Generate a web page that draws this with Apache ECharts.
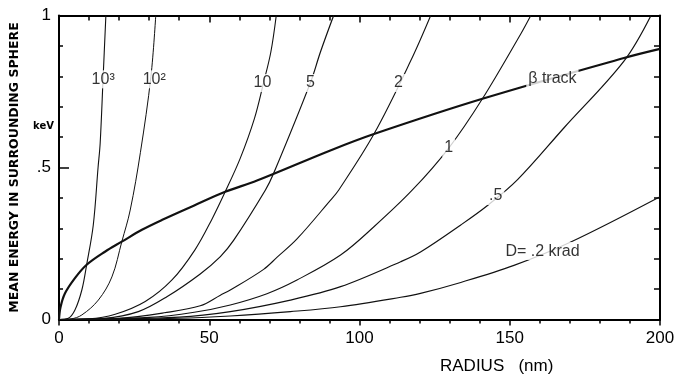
<!DOCTYPE html>
<html>
<head>
<meta charset="utf-8">
<script src="https://cdn.jsdelivr.net/npm/echarts@6/dist/echarts.min.js"></script>
<style>
  html, body { margin: 0; padding: 0; background: #fff; }
  #chart { width: 676px; height: 376px; }
</style>
</head>
<body>
<div id="chart"></div>
<script>
// curves: [radius nm, mean energy keV]
const curve1000 = [[0, 0], [3.1, 0.004], [5.3, 0.031], [7.6, 0.097], [9.2, 0.18], [11.4, 0.31], [13, 0.5], [13.7, 0.58], [14.7, 0.8], [15.6, 1.0]];
const curve100 = [[0, 0], [4, 0.002], [7.6, 0.015], [13.1, 0.064], [17.6, 0.14], [20.9, 0.256], [23.7, 0.36], [27.1, 0.55], [30.6, 0.8], [32.2, 1.0]];
const curve10 = [[0, 0], [10, 0.002], [18.7, 0.017], [28.7, 0.059], [37.6, 0.13], [45.3, 0.23], [50.9, 0.33], [55.3, 0.42], [60.3, 0.53], [65, 0.66], [68.1, 0.78], [70.5, 0.88], [72.3, 1.0]];
const curve5 = [[0, 0], [15, 0.004], [26.4, 0.026], [35.9, 0.075], [47, 0.15], [53.7, 0.207], [58.1, 0.26], [68.7, 0.426], [71.4, 0.48], [83.7, 0.78], [87, 0.88], [91.4, 1.0]];
const curve2 = [[0, 0], [20, 0.004], [35, 0.022], [47, 0.045], [53.7, 0.08], [57, 0.097], [68.1, 0.165], [72.6, 0.205], [79.2, 0.265], [90.3, 0.392], [93.1, 0.426], [104.8, 0.61], [117, 0.85], [123.7, 1.0]];
const curve1 = [[0, 0], [30, 0.007], [45, 0.024], [57, 0.048], [69.2, 0.085], [79.2, 0.13], [93.7, 0.212], [104.8, 0.305], [117.6, 0.426], [129.7, 0.564], [140.9, 0.726], [153.7, 0.94], [157, 1.0]];
const curveHalf = [[0, 0], [40, 0.008], [57, 0.026], [77, 0.064], [93.7, 0.108], [113.7, 0.19], [120.3, 0.222], [133.7, 0.311], [142.6, 0.375], [152.6, 0.46], [168, 0.63], [188, 0.85], [197, 1.0]];
const curveFifth = [[0, 0], [40, 0.004], [57, 0.0115], [77, 0.026], [93.7, 0.042], [113.7, 0.073], [120.3, 0.086], [133.7, 0.122], [151.4, 0.178], [170.3, 0.255], [200, 0.404]];
const betaTrack = [[0, 0], [0.5, 0.04], [2, 0.086], [5.3, 0.136], [9.2, 0.18], [15.3, 0.223], [20.9, 0.256], [27.6, 0.295], [34.2, 0.327], [45, 0.375], [55.3, 0.42], [65.9, 0.457], [90.3, 0.556], [104.8, 0.61], [140.9, 0.726], [188, 0.86], [200, 0.89]];

// in-plot labels [x, y, text]
const curveLabels = [
  [14.7, 0.79, '10³'],
  [31.7, 0.79, '10²'],
  [67.7, 0.778, '10'],
  [83.7, 0.778, '5'],
  [113, 0.778, '2'],
  [164.2, 0.791, 'β track'],
  [129.7, 0.564, '1'],
  [145.3, 0.406, '.5'],
  [160.9, 0.225, 'D= .2 krad']
];

const yTickText = { 0: '0', 0.5: '.5', 1: '1' };

const font = 'Liberation Sans';
const chart = echarts.init(document.getElementById('chart'));

function curve(name, data, width) {
  return {
    name: name,
    type: 'line',
    data: data,
    symbol: 'none',
    smooth: 0.35,
    lineStyle: { color: '#111', width: width },
    z: 2,
    silent: true
  };
}

const option = {
  animation: false,
  backgroundColor: '#fff',
  textStyle: { fontFamily: font },
  grid: { left: 59, right: 16, top: 15.5, bottom: 56.5, containLabel: false, outerBoundsMode: 'none' },
  xAxis: [
    {
      type: 'value', min: 0, max: 200, interval: 50, position: 'bottom',
      axisLine: { onZero: false, lineStyle: { color: '#000', width: 2 } },
      axisTick: { length: 6, lineStyle: { color: '#000', width: 1.5 } },
      minorTick: { show: true, splitNumber: 5, length: 4, lineStyle: { color: '#000', width: 1.5 } },
      splitLine: { show: false },
      axisLabel: { fontSize: 17, color: '#000', margin: 10 }
    },
    {
      type: 'value', min: 0, max: 200, interval: 50, position: 'top',
      axisLine: { onZero: false, lineStyle: { color: '#000', width: 2 } },
      axisTick: { inside: true, length: 7, lineStyle: { color: '#000', width: 1.5 } },
      minorTick: { show: true, splitNumber: 5, length: 5, lineStyle: { color: '#000', width: 1.5 } },
      splitLine: { show: false },
      axisLabel: { show: false }
    }
  ],
  yAxis: [
    {
      type: 'value', min: 0, max: 1, interval: 0.5, position: 'left',
      name: 'MEAN ENERGY IN SURROUNDING SPHERE',
      nameLocation: 'middle', nameRotate: 90, nameGap: 38,
      nameTextStyle: { fontSize: 12.5, fontWeight: 'bold', color: '#000', fontFamily: 'DejaVu Sans' },
      axisLine: { onZero: false, lineStyle: { color: '#000', width: 2 } },
      axisTick: { inside: true, length: 10, lineStyle: { color: '#000', width: 1.5 } },
      minorTick: { show: true, splitNumber: 5, length: 4, lineStyle: { color: '#000', width: 1.5 } },
      splitLine: { show: false },
      axisLabel: { fontSize: 17, color: '#000', margin: 8, formatter: v => yTickText[v] }
    },
    {
      type: 'value', min: 0, max: 1, interval: 0.5, position: 'right',
      axisLine: { onZero: false, lineStyle: { color: '#000', width: 2 } },
      axisTick: { inside: true, length: 6, lineStyle: { color: '#000', width: 1.5 } },
      minorTick: { show: true, splitNumber: 5, length: 6, lineStyle: { color: '#000', width: 1.5 } },
      splitLine: { show: false },
      axisLabel: { show: false }
    }
  ],
  graphic: [
    { type: 'text', left: 33, top: 121, style: { text: 'keV', fontSize: 10, fontWeight: 'bold', fontFamily: 'DejaVu Sans', fill: '#000' } },
    { type: 'text', left: 440, top: 358, style: { text: 'RADIUS   (nm)', fontSize: 17, fontFamily: font, fill: '#000' } }
  ],
  series: [
    curve('10³', curve1000, 1.1),
    curve('10²', curve100, 1),
    curve('10', curve10, 1.1),
    curve('5', curve5, 1.2),
    curve('2', curve2, 1.1),
    curve('1', curve1, 1.1),
    curve('.5', curveHalf, 1.2),
    curve('.2 krad', curveFifth, 1.1),
    curve('β track', betaTrack, 2.2),
    {
      name: 'labels',
      type: 'scatter',
      data: curveLabels,
      symbolSize: 0,
      z: 5,
      silent: true,
      label: {
        show: true,
        position: 'inside',
        formatter: p => p.value[2],
        fontSize: 16,
        color: '#000',
        backgroundColor: '#fff',
        padding: [1, 2]
      }
    }
  ]
};

chart.setOption(option);
</script>
</body>
</html>
